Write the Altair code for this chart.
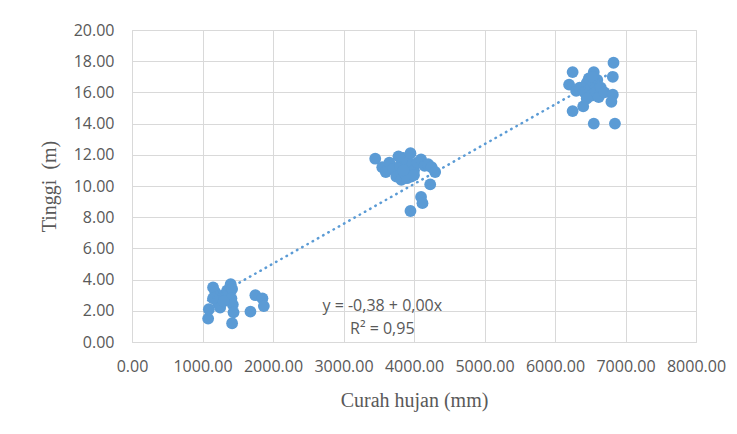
import altair as alt
import pandas as pd

# Curah hujan (mm) and Tinggi (m)
curah_hujan = [
    1080, 1090, 1150, 1180, 1200, 1220, 1250, 1300, 1350, 1400, 1420, 1410,
    1430, 1440, 1420, 1680, 1750, 1850, 1870, 1150, 1300,
    3450, 3550, 3600, 3650, 3700, 3750, 3800, 3820, 3850, 3870, 3900, 3920,
    3950, 3960, 3980, 4000, 3780, 4050, 4100, 4150, 4200, 4250, 4300, 4230,
    4100, 4120, 3950, 3900, 3850, 4000,
    6200, 6250, 6250, 6300, 6350, 6400, 6420, 6450, 6480, 6500, 6520, 6550,
    6560, 6580, 6600, 6620, 6650, 6700, 6550, 6850, 6830, 6820, 6820, 6800,
    6530, 6450,
]
tinggi = [
    1.5, 2.1, 3.5, 3.2, 2.9, 2.5, 2.2, 3.0, 3.3, 3.7, 3.4, 2.8,
    2.4, 1.9, 1.2, 1.95, 3.0, 2.8, 2.3, 2.8, 2.6,
    11.75, 11.2, 10.9, 11.5, 11.1, 10.6, 11.3, 10.4, 11.8, 10.8, 11.6, 11.0,
    12.1, 10.6, 11.4, 11.0, 11.9, 11.5, 11.7, 11.3, 11.4, 11.2, 10.9, 10.1,
    9.3, 8.9, 8.4, 10.5, 11.0, 10.7,
    16.5, 17.3, 14.8, 16.1, 16.3, 15.1, 16.0, 16.6, 16.9, 16.2, 15.8, 17.3,
    16.5, 16.0, 16.8, 15.7, 16.3, 16.0, 14.0, 14.0, 17.9, 17.0, 15.85, 15.4,
    17.0, 15.6,
]

x_ticks = [0, 1000, 2000, 3000, 4000, 5000, 6000, 7000, 8000]
y_ticks = [0, 2, 4, 6, 8, 10, 12, 14, 16, 18, 20]

ann_labels = ["y = -0,38 + 0,00x", "R\u00b2 = 0,95"]
ann_x = [3550, 3550]
ann_y = [2.33, 0.85]

df = pd.DataFrame({"x": curah_hujan, "y": tinggi})
ann = pd.DataFrame({"x": ann_x, "y": ann_y, "label": ann_labels})

blue = "#5B9BD5"
grey_txt = "#595959"
grid = "#d9d9d9"

xscale = alt.Scale(domain=[0, 8000], nice=False)
yscale = alt.Scale(domain=[0, 20], nice=False)

common = dict(
    format=".2f", labelOverlap=False, ticks=False, gridColor=grid,
    labelFont="Open Sans", labelFontSize=16, labelColor=grey_txt,
    titleFont="Liberation Serif", titleFontSize=20, titleFontWeight="normal",
    titleColor=grey_txt,
)
xaxis = alt.Axis(values=x_ticks, title="Curah hujan (mm)", labelFlush=False,
                 labelPadding=16, domainColor=grid, titleY=58,
                 titleBaseline="middle", **common)
yaxis = alt.Axis(values=y_ticks, title="Tinggi\u00a0 (m)", labelPadding=18,
                 domain=False, titleX=-83, titleBaseline="middle", **common)


def enc(base):
    return base.encode(
        x=alt.X("x:Q", scale=xscale, axis=xaxis),
        y=alt.Y("y:Q", scale=yscale, axis=yaxis),
    )


points = enc(alt.Chart(df).mark_circle(size=140, color=blue, opacity=1))

trend = enc(alt.Chart(df).transform_regression("x", "y").mark_line(
    color=blue, strokeWidth=2.5, strokeDash=[0.5, 5.5], strokeCap="round"
))

text = enc(alt.Chart(ann).mark_text(
    font="Open Sans", fontSize=16, color=grey_txt, align="center", baseline="middle"
)).encode(text="label:N")

chart = alt.layer(points, trend, text).properties(
    width=564,
    height=312,
    autosize=alt.AutoSizeParams(type="none"),
    padding={"left": 124, "top": 22, "right": 30, "bottom": 80},
    background="white",
).configure_view(
    stroke=grid
)

chart.save("out.html", embed_options={"renderer": "svg", "actions": False})
